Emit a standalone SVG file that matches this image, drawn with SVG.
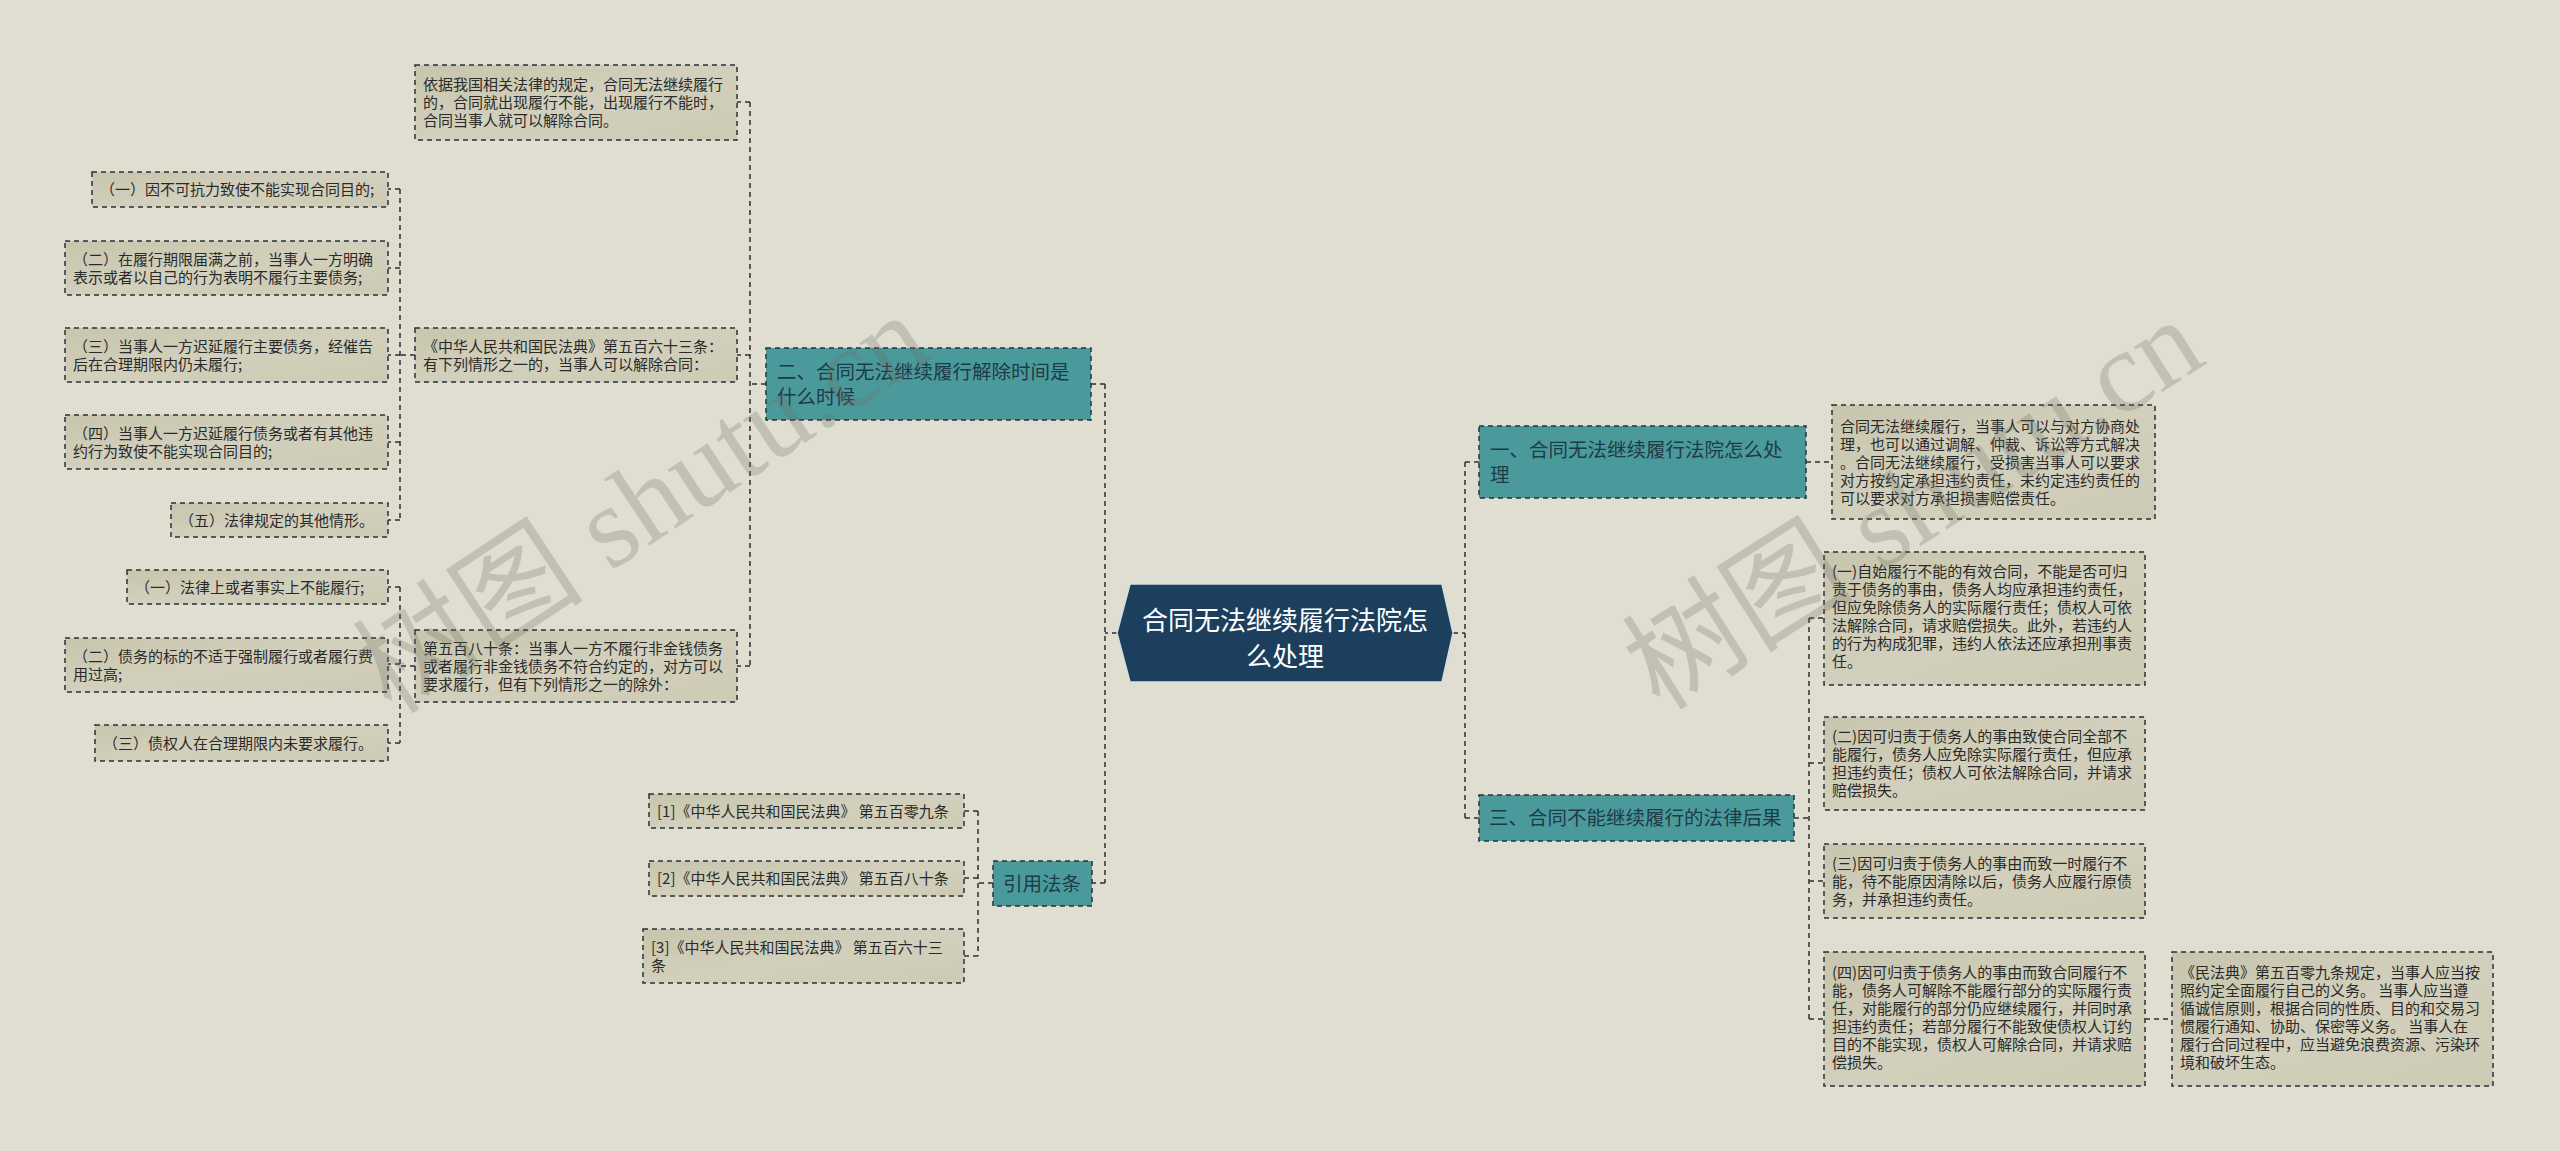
<svg xmlns="http://www.w3.org/2000/svg" width="2560" height="1151" viewBox="0 0 2560 1151">
<defs>
<linearGradient id="boxfill" x1="0" y1="0" x2="1" y2="1">
<stop offset="0" stop-color="#c7c5ac"/>
<stop offset="0.5" stop-color="#d2d0bc"/>
<stop offset="1" stop-color="#cdcbb4"/>
</linearGradient>
<style>
.bg{fill:#e0ded0}
.box{fill:url(#boxfill);stroke:#2b3138;stroke-width:1.5;stroke-dasharray:5 4}
.teal{fill:#4b9a9b;stroke:#22343e;stroke-width:1.5;stroke-dasharray:5 4}
.center{fill:#1c3f5e;stroke:#d6dee3;stroke-width:1.5}
.t{font-family:"Noto Sans CJK SC","Noto Sans",sans-serif;font-size:15px;fill:#2a2a2a}
.tt{font-family:"Noto Sans CJK SC","Noto Sans",sans-serif;font-size:19.5px;fill:#1e3b48}
.tc{font-family:"Noto Sans CJK SC","Noto Sans",sans-serif;font-size:26px;fill:#ffffff;text-anchor:middle}
.conn path{fill:none;stroke:#2b3138;stroke-width:1.5;stroke-dasharray:5 4}
.wm{font-family:"Liberation Serif","Noto Sans CJK SC",serif;font-size:116px;fill:#6e6d64;opacity:0.26}
</style>
</defs>
<rect class="bg" x="0" y="0" width="2560" height="1151"/>

<g id="connectors" class="conn">
<path d="M1117,633 H1105 M1105,384 V883 M1105,384 H1091 M1105,883 H1092"/>
<path d="M766,384 H750 M750,102 V666 M750,102 H737 M750,355 H737 M750,666 H737"/>
<path d="M415,355 H400 M400,189 V520 M400,189 H388 M400,268 H388 M400,355 H388 M400,442 H388 M400,520 H388"/>
<path d="M415,666 H400 M400,587 V743 M400,587 H388 M400,664 H388 M400,743 H388"/>
<path d="M993,883 H978 M978,811 V956 M978,811 H964 M978,878 H964 M978,956 H964"/>
<path d="M1453,633 H1465 M1465,462 V818 M1465,462 H1479 M1465,818 H1479"/>
<path d="M1806,462 H1832"/>
<path d="M1794,818 H1809 M1809,618 V1019 M1809,618 H1824 M1809,763 H1824 M1809,881 H1824 M1809,1019 H1824"/>
<path d="M2145,1019 H2172"/>
</g>

<g id="center">
<path class="center" d="M1130,584 H1442 L1453,633 L1442,682 H1130 L1117,633 Z"/>
<text class="tc" x="1285" y="630">合同无法继续履行法院怎</text>
<text class="tc" x="1285" y="666">么处理</text>
</g>

<g id="n2">
<rect class="teal" x="766" y="348" width="325" height="72"/>
<text class="tt" x="777" y="378.5">二、合同无法继续履行解除时间是</text>
<text class="tt" x="777" y="403.5">什么时候</text>
</g>

<g id="n2-intro">
<rect class="box" x="415" y="65" width="322" height="75"/>
<text class="t" x="423" y="90">依据我国相关法律的规定，合同无法继续履行</text>
<text class="t" x="423" y="108">的，合同就出现履行不能，出现履行不能时，</text>
<text class="t" x="423" y="126">合同当事人就可以解除合同。</text>
</g>

<g id="n2-563">
<rect class="box" x="415" y="328" width="322" height="54"/>
<text class="t" x="423" y="351.5">《中华人民共和国民法典》第五百六十三条：</text>
<text class="t" x="423" y="369.5">有下列情形之一的，当事人可以解除合同：</text>
</g>

<g id="n563-1">
<rect class="box" x="92" y="172" width="296" height="35"/>
<text class="t" x="100" y="195">（一）因不可抗力致使不能实现合同目的;</text>
</g>
<g id="n563-2">
<rect class="box" x="65" y="241" width="323" height="54"/>
<text class="t" x="73" y="264.5">（二）在履行期限届满之前，当事人一方明确</text>
<text class="t" x="73" y="282.5">表示或者以自己的行为表明不履行主要债务;</text>
</g>
<g id="n563-3">
<rect class="box" x="65" y="328" width="323" height="54"/>
<text class="t" x="73" y="351.5">（三）当事人一方迟延履行主要债务，经催告</text>
<text class="t" x="73" y="369.5">后在合理期限内仍未履行;</text>
</g>
<g id="n563-4">
<rect class="box" x="65" y="415" width="323" height="54"/>
<text class="t" x="73" y="438.5">（四）当事人一方迟延履行债务或者有其他违</text>
<text class="t" x="73" y="456.5">约行为致使不能实现合同目的;</text>
</g>
<g id="n563-5">
<rect class="box" x="171" y="503" width="217" height="34"/>
<text class="t" x="179" y="525.5">（五）法律规定的其他情形。</text>
</g>

<g id="n2-580">
<rect class="box" x="415" y="630" width="322" height="72"/>
<text class="t" x="423" y="653.5">第五百八十条：当事人一方不履行非金钱债务</text>
<text class="t" x="423" y="671.5">或者履行非金钱债务不符合约定的，对方可以</text>
<text class="t" x="423" y="689.5">要求履行，但有下列情形之一的除外：</text>
</g>
<g id="n580-1">
<rect class="box" x="127" y="570" width="261" height="34"/>
<text class="t" x="135" y="592.5">（一）法律上或者事实上不能履行;</text>
</g>
<g id="n580-2">
<rect class="box" x="65" y="638" width="323" height="54"/>
<text class="t" x="73" y="661.5">（二）债务的标的不适于强制履行或者履行费</text>
<text class="t" x="73" y="679.5">用过高;</text>
</g>
<g id="n580-3">
<rect class="box" x="95" y="725" width="293" height="36"/>
<text class="t" x="103" y="748.5">（三）债权人在合理期限内未要求履行。</text>
</g>

<g id="cite">
<rect class="teal" x="993" y="861" width="99" height="45"/>
<text class="tt" x="1003" y="890.5">引用法条</text>
</g>
<g id="cite-1">
<rect class="box" x="649" y="794" width="315" height="34"/>
<text class="t" x="657" y="816.5">[1]《中华人民共和国民法典》 第五百零九条</text>
</g>
<g id="cite-2">
<rect class="box" x="649" y="861" width="315" height="35"/>
<text class="t" x="657" y="884">[2]《中华人民共和国民法典》 第五百八十条</text>
</g>
<g id="cite-3">
<rect class="box" x="643" y="929" width="321" height="54"/>
<text class="t" x="651" y="952.5">[3]《中华人民共和国民法典》 第五百六十三</text>
<text class="t" x="651" y="970.5">条</text>
</g>

<g id="n1">
<rect class="teal" x="1479" y="426" width="327" height="72"/>
<text class="tt" x="1490" y="456.5">一、合同无法继续履行法院怎么处</text>
<text class="tt" x="1490" y="481.5">理</text>
</g>
<g id="n1-1">
<rect class="box" x="1832" y="405" width="323" height="114"/>
<text class="t" x="1840" y="431.5">合同无法继续履行，当事人可以与对方协商处</text>
<text class="t" x="1840" y="449.5">理，也可以通过调解、仲裁、诉讼等方式解决</text>
<text class="t" x="1840" y="467.5">。合同无法继续履行，受损害当事人可以要求</text>
<text class="t" x="1840" y="485.5">对方按约定承担违约责任，未约定违约责任的</text>
<text class="t" x="1840" y="503.5">可以要求对方承担损害赔偿责任。</text>
</g>

<g id="n3">
<rect class="teal" x="1479" y="795" width="315" height="46"/>
<text class="tt" x="1489" y="825">三、合同不能继续履行的法律后果</text>
</g>
<g id="n3-1">
<rect class="box" x="1824" y="552" width="321" height="133"/>
<text class="t" x="1832" y="577">(一)自始履行不能的有效合同，不能是否可归</text>
<text class="t" x="1832" y="595">责于债务的事由，债务人均应承担违约责任，</text>
<text class="t" x="1832" y="613">但应免除债务人的实际履行责任；债权人可依</text>
<text class="t" x="1832" y="631">法解除合同，请求赔偿损失。此外，若违约人</text>
<text class="t" x="1832" y="649">的行为构成犯罪，违约人依法还应承担刑事责</text>
<text class="t" x="1832" y="667">任。</text>
</g>
<g id="n3-2">
<rect class="box" x="1824" y="717" width="321" height="93"/>
<text class="t" x="1832" y="742">(二)因可归责于债务人的事由致使合同全部不</text>
<text class="t" x="1832" y="760">能履行，债务人应免除实际履行责任，但应承</text>
<text class="t" x="1832" y="778">担违约责任；债权人可依法解除合同，并请求</text>
<text class="t" x="1832" y="796">赔偿损失。</text>
</g>
<g id="n3-3">
<rect class="box" x="1824" y="844" width="321" height="74"/>
<text class="t" x="1832" y="868.5">(三)因可归责于债务人的事由而致一时履行不</text>
<text class="t" x="1832" y="886.5">能，待不能原因清除以后，债务人应履行原债</text>
<text class="t" x="1832" y="904.5">务，并承担违约责任。</text>
</g>
<g id="n3-4">
<rect class="box" x="1824" y="952" width="321" height="134"/>
<text class="t" x="1832" y="978">(四)因可归责于债务人的事由而致合同履行不</text>
<text class="t" x="1832" y="996">能，债务人可解除不能履行部分的实际履行责</text>
<text class="t" x="1832" y="1014">任，对能履行的部分仍应继续履行，并同时承</text>
<text class="t" x="1832" y="1032">担违约责任；若部分履行不能致使债权人订约</text>
<text class="t" x="1832" y="1050">目的不能实现，债权人可解除合同，并请求赔</text>
<text class="t" x="1832" y="1068">偿损失。</text>
</g>
<g id="n3-4-1">
<rect class="box" x="2172" y="952" width="321" height="134"/>
<text class="t" x="2180" y="978">《民法典》第五百零九条规定，当事人应当按</text>
<text class="t" x="2180" y="996">照约定全面履行自己的义务。 当事人应当遵</text>
<text class="t" x="2180" y="1014">循诚信原则，根据合同的性质、目的和交易习</text>
<text class="t" x="2180" y="1032">惯履行通知、协助、保密等义务。 当事人在</text>
<text class="t" x="2180" y="1050">履行合同过程中，应当避免浪费资源、污染环</text>
<text class="t" x="2180" y="1068">境和破坏生态。</text>
</g>

<g id="watermarks">
<text class="wm" transform="translate(392,716) rotate(-33.5)">树图 shutu.cn</text>
<text class="wm" transform="translate(1660,712) rotate(-32.5)">树图 shutu.cn</text>
</g>
</svg>
